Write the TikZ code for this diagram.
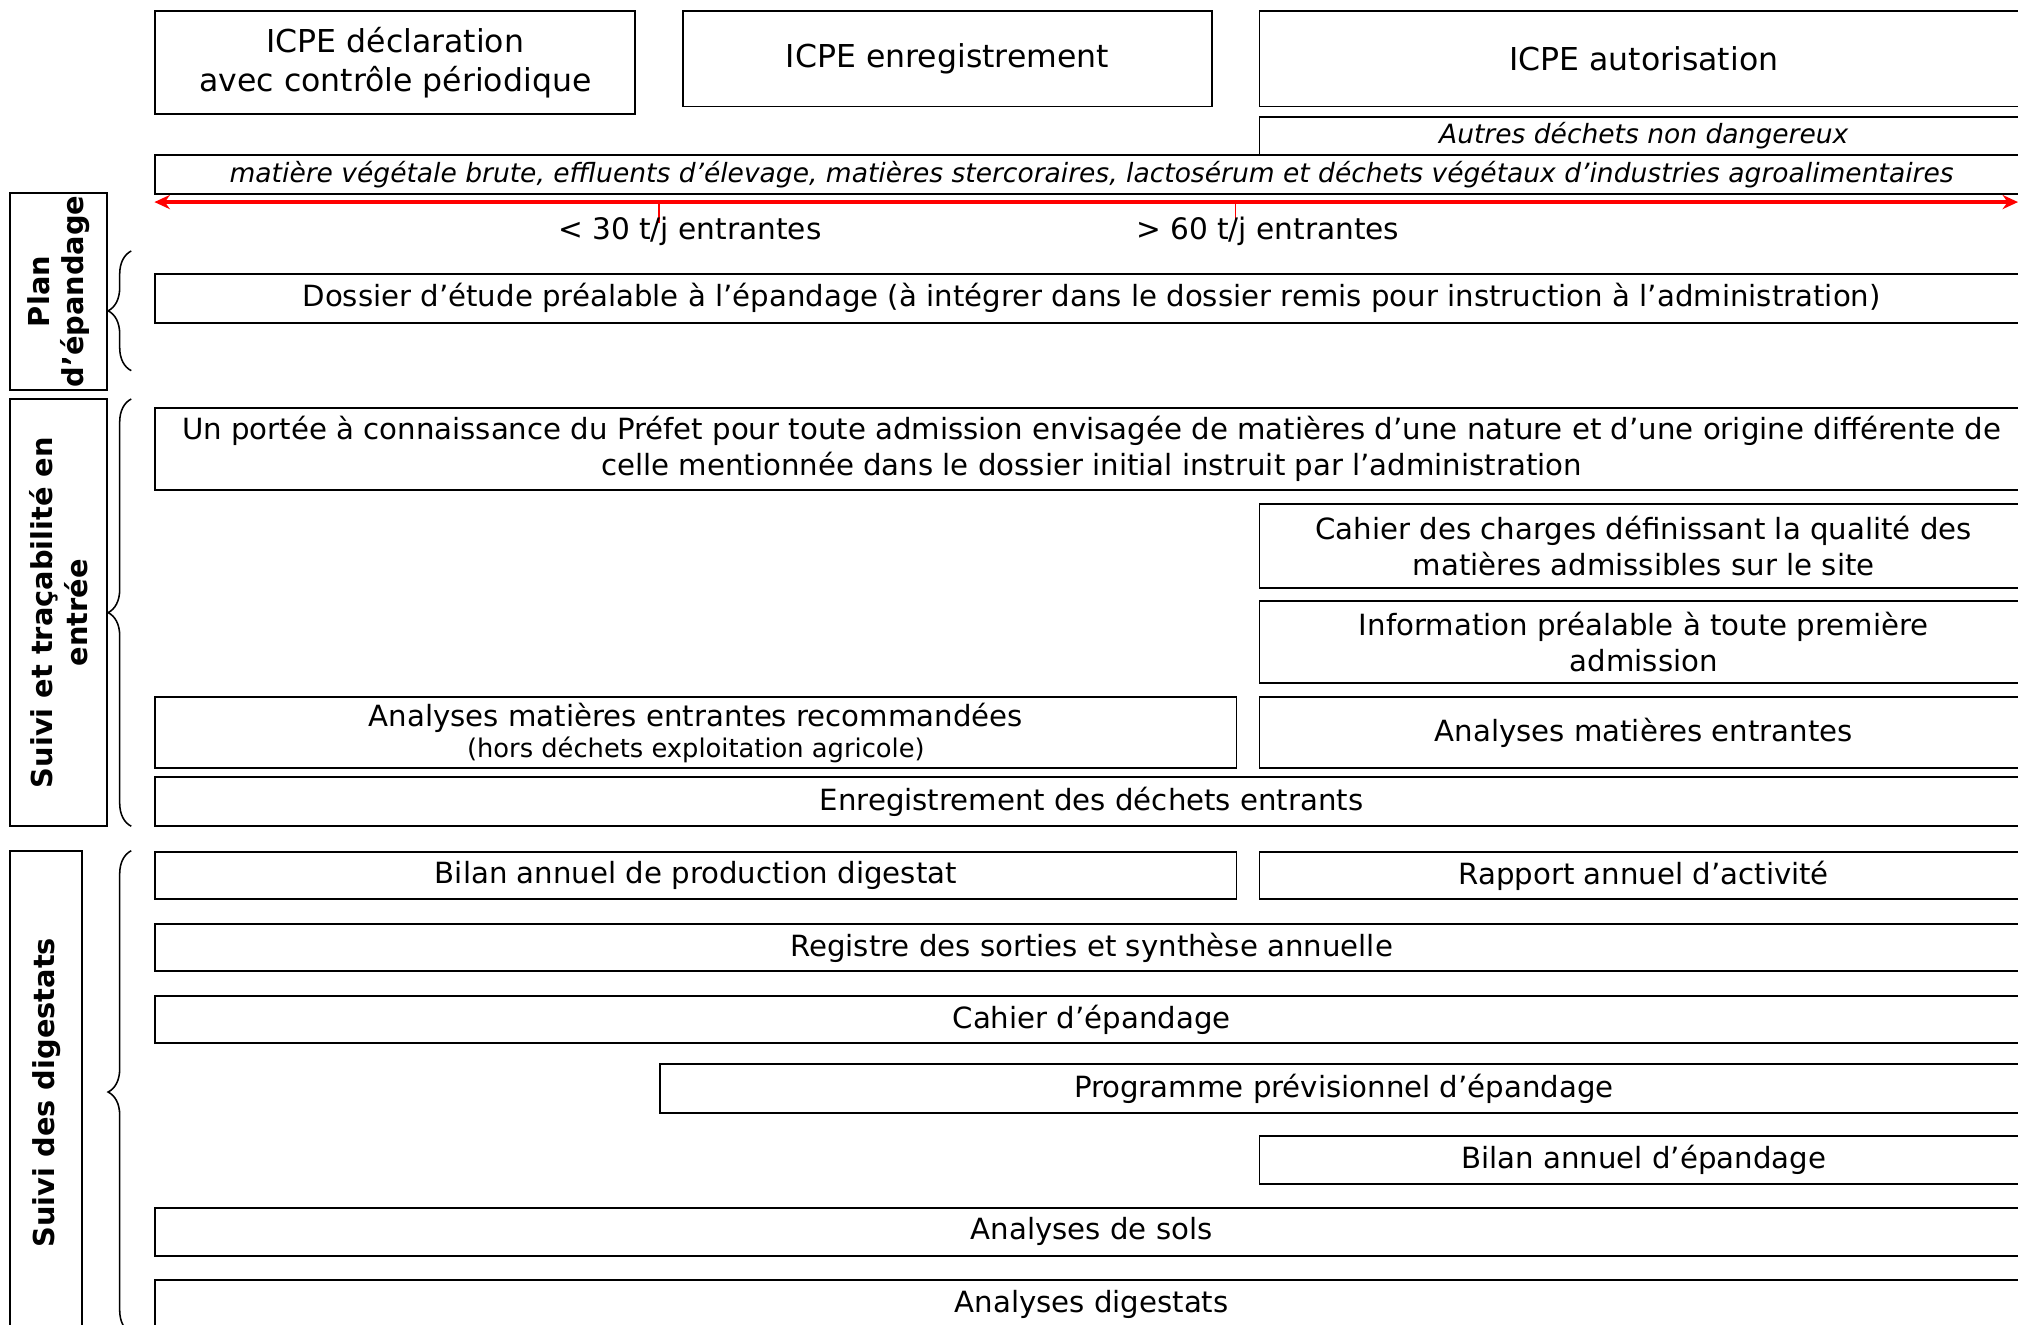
\documentclass[tikz,border=0pt]{standalone}
\usepackage{fontspec}
\setmainfont{DejaVu Sans}
\usetikzlibrary{arrows.meta,decorations.pathreplacing}

\begin{document}
\begin{tikzpicture}[
  x=1pt, y=-1pt,
  box/.style={draw, line width=1.4pt, anchor=north west, align=center,
              inner sep=0pt, font=\fontsize{22.7}{28}\selectfont},
  head/.style={box, font=\fontsize{24.5}{30}\selectfont},
  waste/.style={box, font=\fontsize{20.6}{24}\selectfont\itshape},
  side/.style={draw, line width=1.4pt, rotate=90, align=center,
               inner sep=0pt, font=\fontsize{22.4}{27}\selectfont\bfseries},
  lbl/.style={font=\fontsize{23}{28}\selectfont, inner sep=0pt},
  redarr/.style={{Stealth[length=12pt,width=11pt]}-{Stealth[length=12pt,width=11pt]},
                 red, line width=2.6pt},
  tick/.style={red, line width=1pt},
  brace/.style={decorate, decoration={brace, amplitude=18pt}, line width=1.2pt}
]
\useasboundingbox (0,0) rectangle (1568,1029);
\clip (0,0) rectangle (1568,1029);

% regimes
\node[head, minimum width=373, minimum height=80] (decl)  at (120,8) {ICPE déclaration\\avec contrôle périodique};
\node[head, minimum width=411, minimum height=74] (enreg) at (530,8) {ICPE enregistrement};
\node[head, minimum width=597, minimum height=74] (autor) at (978,8) {ICPE autorisation};
\node[waste, minimum width=597, minimum height=30]  (autres) at (978,90)  {Autres déchets non dangereux};
\node[waste, minimum width=1455, minimum height=30] (agri)   at (120,120) {matière végétale brute, effluents d’élevage, matières stercoraires, lactosérum et déchets végétaux d’industries agroalimentaires};

\coordinate (arrL) at (120,157);
\coordinate (arrR) at (1568,157);
\coordinate (t30)  at (512,157);
\coordinate (t60)  at (960,157);
\draw[redarr] (arrL) -- (arrR);
\draw[tick] (t30) -- ++(0,16);
\draw[tick] (t60) -- ++(0,16);
\node[lbl] (lt30) at (536,180) {< 30 t/j entrantes};
\node[lbl] (lt60) at (985,180) {> 60 t/j entrantes};

% plan d'epandage
\node[side, minimum width=153, minimum height=75] (plan) at (45.5,226.5) {Plan\\d’épandage};
\draw[brace] (102,288) -- (102,195);
\node[box, minimum width=1455, minimum height=38] (dossier) at (120,212) {Dossier d’étude préalable à l’épandage (à intégrer dans le dossier remis pour instruction à l’administration)};

% suivi en entree
\node[side, minimum width=332, minimum height=75] (entree) at (45.5,476) {Suivi et traçabilité en\\entrée};
\draw[brace] (102,642) -- (102,310);
\node[box, minimum width=1455, minimum height=64] (portee) at (120,316) {Un portée à connaissance du Préfet pour toute admission envisagée de matières d’une nature et d'une origine différente de\\celle mentionnée dans le dossier initial instruit par l’administration};
\node[box, minimum width=597, minimum height=65] (cahier) at (978,391) {Cahier des charges définissant la qualité des\\matières admissibles sur le site};
\node[box, minimum width=597, minimum height=64] (info)   at (978,466) {Information préalable à toute première\\admission};
\node[box, minimum width=840, minimum height=55] (anareco) at (120,541) {Analyses matières entrantes recommandées\\[-4pt]{\fontsize{20}{24}\selectfont(hors déchets exploitation agricole)}};
\node[box, minimum width=597, minimum height=55] (ana)     at (978,541) {Analyses matières entrantes};
\node[box, minimum width=1455, minimum height=38] (registre) at (120,603) {Enregistrement des déchets entrants};

% suivi des digestats
\node[side, minimum width=376, minimum height=56] (digest) at (36,849) {Suivi des digestats};
\draw[brace] (102,1036) -- (102,661);
\node[box, minimum width=840, minimum height=37]  (bilanprod) at (120,661) {Bilan annuel de production digestat};
\node[box, minimum width=597, minimum height=37]  (rapport)   at (978,661) {Rapport annuel d’activité};
\node[box, minimum width=1455, minimum height=37] (sorties)   at (120,717) {Registre des sorties et synthèse annuelle};
\node[box, minimum width=1455, minimum height=37] (cahierep)  at (120,773) {Cahier d’épandage};
\node[box, minimum width=1063, minimum height=38] (progr)     at (512,826) {Programme prévisionnel d’épandage};
\node[box, minimum width=597, minimum height=37]  (bilanep)   at (978,882) {Bilan annuel d’épandage};
\node[box, minimum width=1455, minimum height=37] (sols)      at (120,938) {Analyses de sols};
\node[box, minimum width=1455, minimum height=38] (anadig)    at (120,994) {Analyses digestats};

\end{tikzpicture}
\end{document}
